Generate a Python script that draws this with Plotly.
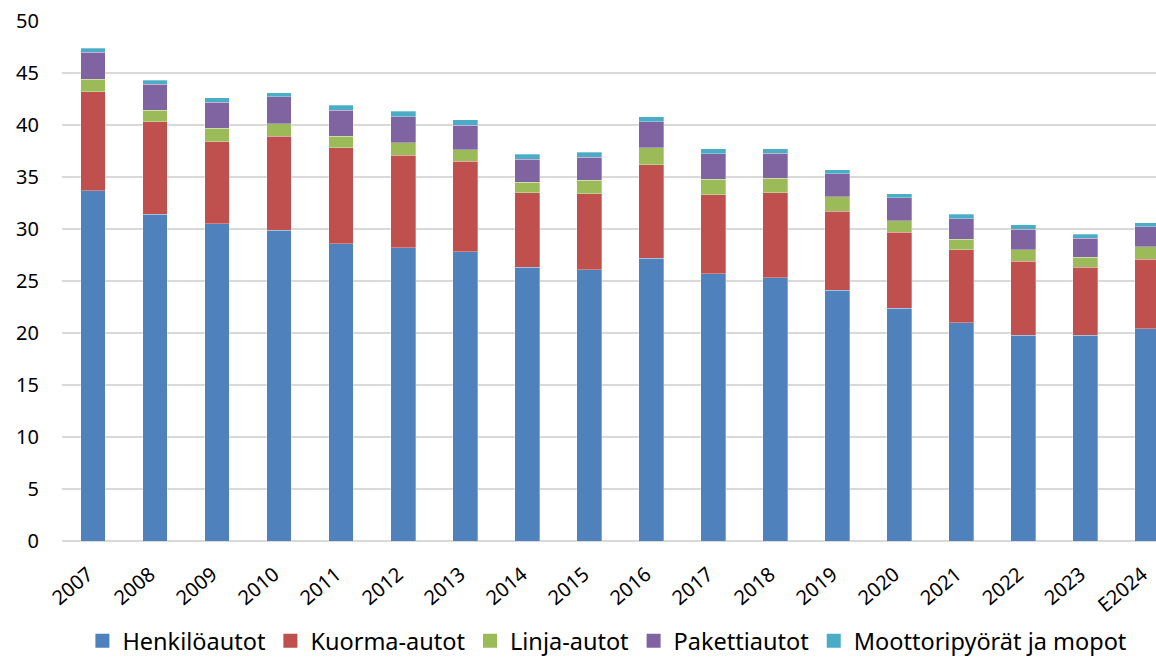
import plotly.graph_objects as go

years = ["2007", "2008", "2009", "2010", "2011", "2012", "2013", "2014", "2015",
         "2016", "2017", "2018", "2019", "2020", "2021", "2022", "2023", "E2024"]

henkiloautot = [33.7, 31.4, 30.5, 29.9, 28.6, 28.2, 27.8, 26.3, 26.1,
                27.2, 25.7, 25.3, 24.1, 22.4, 21.0, 19.8, 19.8, 20.4]
kuorma_autot = [9.5, 8.9, 7.9, 9.0, 9.2, 8.9, 8.7, 7.2, 7.3,
                9.0, 7.6, 8.2, 7.6, 7.3, 7.0, 7.1, 6.5, 6.7]
linja_autot = [1.2, 1.1, 1.3, 1.2, 1.1, 1.2, 1.1, 1.0, 1.3,
               1.6, 1.5, 1.4, 1.4, 1.1, 1.0, 1.1, 1.0, 1.2]
pakettiautot = [2.6, 2.5, 2.5, 2.6, 2.5, 2.5, 2.4, 2.2, 2.2,
                2.5, 2.45, 2.4, 2.2, 2.2, 2.0, 2.0, 1.8, 1.9]
moottoripyorat = [0.4, 0.4, 0.4, 0.4, 0.5, 0.5, 0.5, 0.5, 0.5,
                  0.5, 0.45, 0.4, 0.4, 0.4, 0.4, 0.4, 0.4, 0.4]

series = [
    ("Henkilöautot", henkiloautot, "#4F81BD"),
    ("Kuorma-autot", kuorma_autot, "#C0504D"),
    ("Linja-autot", linja_autot, "#9BBB59"),
    ("Pakettiautot", pakettiautot, "#8064A2"),
    ("Moottoripyörät ja mopot", moottoripyorat, "#4BACC6"),
]

fig = go.Figure()
for name, vals, color in series:
    fig.add_trace(go.Bar(
        x=years, y=vals, name=name, legendgroup=name, showlegend=False,
        marker=dict(color=color, line=dict(color="rgba(255,255,255,0.5)", width=0.6)),
    ))
# legend entries with larger square swatches
for name, vals, color in series:
    fig.add_trace(go.Scatter(
        x=[None], y=[None], mode="markers", name=name, legendgroup=name,
        marker=dict(symbol="square", size=14, color=color),
        showlegend=True,
    ))

FONT = "Noto Sans, Open Sans, sans-serif"

fig.update_layout(
    barmode="stack",
    bargap=0.6,
    width=1156, height=663,
    margin=dict(l=62, r=0, t=21, b=122),
    paper_bgcolor="white",
    plot_bgcolor="white",
    font=dict(family=FONT, size=20, color="#000000"),
    showlegend=True,
    legend=dict(
        orientation="h",
        xref="container", yref="container",
        x=0.525, xanchor="center",
        y=0.0, yanchor="bottom",
        font=dict(size=23.5, family=FONT),
        traceorder="normal",
        itemwidth=30,
        borderwidth=0,
    ),
    xaxis=dict(
        type="category",
        range=[-0.5, 17.14],
        tickangle=-40,
        tickfont=dict(size=20),
        showgrid=False,
        showline=False,
        ticks="",
        ticklabelstandoff=17,
        ticklabelshift=-5,
        automargin=False,
    ),
    yaxis=dict(
        range=[0, 50],
        dtick=5,
        tick0=0,
        showgrid=True,
        gridcolor="#d9d9d9",
        gridwidth=1.5,
        zeroline=True,
        zerolinecolor="#d9d9d9",
        zerolinewidth=1.5,
        ticks="",
        tickfont=dict(size=20),
        ticklabelstandoff=22,
        automargin=False,
    ),
)

fig.write_html(
    "out.html",
    config={"displayModeBar": False},
    post_script="document.body.style.margin='0';document.body.style.overflow='hidden';",
)
